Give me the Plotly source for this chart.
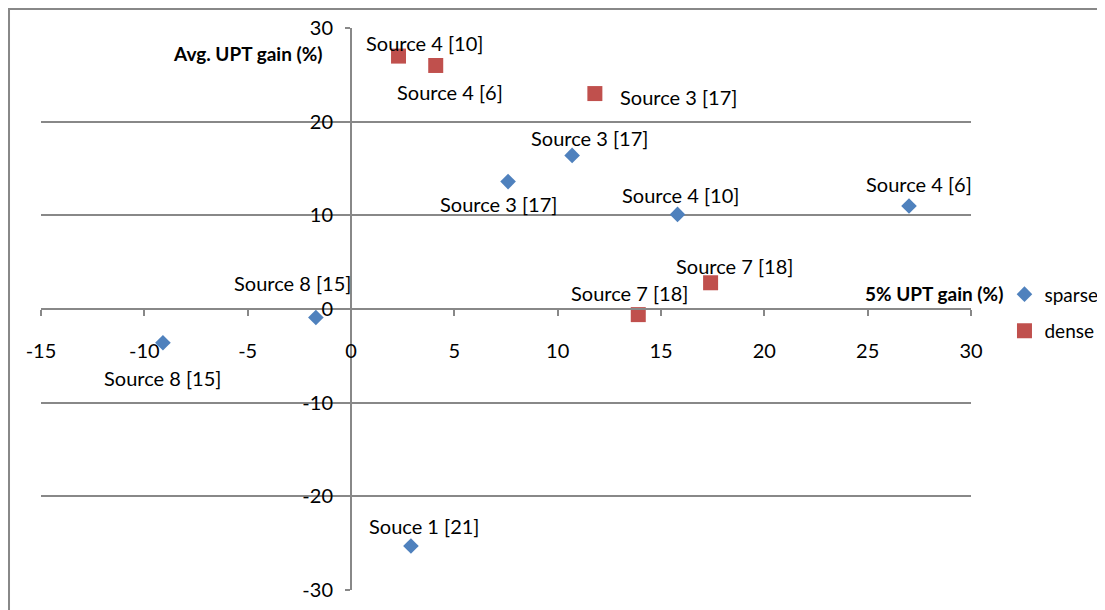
import plotly.graph_objects as go

# Data
sparse_x = [27.0, 15.8, 10.7, 7.6, -1.7, -9.1, 2.9]
sparse_y = [11.0, 10.1, 16.4, 13.6, -0.9, -3.6, -25.3]
sparse_labels = ["Source 4 [6]", "Source 4 [10]", "Source 3 [17]", "Source 3 [17]",
                 "Source 8 [15]", "Source 8 [15]", "Souce 1 [21]"]

dense_x = [2.3, 4.1, 11.8, 17.4, 13.9]
dense_y = [27.0, 26.0, 23.0, 2.8, -0.6]
dense_labels = ["Source 4 [10]", "Source 4 [6]", "Source 3 [17]", "Source 7 [18]", "Source 7 [18]"]

x_ticks = [-15, -10, -5, 0, 5, 10, 15, 20, 25, 30]
y_ticks = [-30, -20, -10, 0, 10, 20, 30]

# label offsets in pixels (style only)
sparse_off = [(10, 22), (3, 19), (17, 17), (-10, -22), (-23, 34), (0, -35), (14, 20)]
dense_off = [(26, 13), (14, -27), (84, -3), (24, 17), (-9, 22)]

BLUE = "#4F81BD"
RED = "#C0504D"
GRAY = "#888888"
FONT = "Lato, Carlito, Calibri, sans-serif"

fig = go.Figure()
fig.add_trace(go.Scatter(
    x=sparse_x, y=sparse_y, mode="markers", name="sparse", legendgroup="s",
    marker=dict(symbol="diamond", size=12, color=BLUE, line=dict(width=0)),
))
fig.add_trace(go.Scatter(
    x=dense_x, y=dense_y, mode="markers", name="dense", legendgroup="d",
    marker=dict(symbol="square", size=15, color=RED, line=dict(width=0)),
))

annotations = []
for xs, ys, labs, offs in [(sparse_x, sparse_y, sparse_labels, sparse_off),
                           (dense_x, dense_y, dense_labels, dense_off)]:
    for xv, yv, lab, (dx, dy) in zip(xs, ys, labs, offs):
        annotations.append(dict(x=xv, y=yv, xref="x", yref="y", text=lab,
                                showarrow=False, xshift=dx, yshift=dy,
                                font=dict(family=FONT, size=20, color="#000000")))

annotations.append(dict(x=0.3333, y=0.954, xref="paper", yref="paper",
                        text="<b>Avg. UPT gain (%)</b>", showarrow=False,
                        xanchor="right", yanchor="middle", xshift=-26,
                        font=dict(family=FONT, size=19, color="#000000")))
annotations.append(dict(x=1.0, y=0.5, xref="paper", yref="paper",
                        text="<b>5% UPT gain (%)</b>", showarrow=False,
                        xanchor="right", yanchor="middle", xshift=34, yshift=16,
                        font=dict(family=FONT, size=19, color="#000000")))

fig.update_layout(
    width=1097, height=602,
    margin=dict(l=33, r=134, t=20, b=20, autoexpand=False),
    paper_bgcolor="white", plot_bgcolor="white",
    font=dict(family=FONT, size=19, color="#000000"),
    showlegend=True,
    legend=dict(x=1.036, y=0.56, xanchor="left", yanchor="top",
                traceorder="grouped", tracegroupgap=9,
                font=dict(family=FONT, size=19, color="#000000"),
                itemwidth=30, bgcolor="rgba(0,0,0,0)"),
    annotations=annotations,
    xaxis=dict(range=[-15, 30], tickvals=x_ticks, ticktext=[str(v) for v in x_ticks],
               showgrid=False, zeroline=False, showline=True, linecolor=GRAY, linewidth=2,
               anchor="free", position=0.5, ticks="outside", ticklen=6, tickcolor=GRAY,
               tickwidth=2, ticklabelstandoff=18, automargin=False,
               tickfont=dict(family=FONT, size=20)),
    yaxis=dict(range=[-30, 30], tickvals=y_ticks, ticktext=[str(v) for v in y_ticks],
               showgrid=True, gridcolor=GRAY, gridwidth=1.5, zeroline=False,
               showline=True, linecolor=GRAY, linewidth=2,
               anchor="free", position=1/3, ticks="outside", ticklen=5, tickcolor=GRAY,
               tickwidth=1.5, ticklabelstandoff=8, automargin=False,
               tickfont=dict(family=FONT, size=20)),
    shapes=[dict(type="rect", xref="paper", yref="paper", x0=-0.0344, y0=-0.2,
                 x1=1.3, y1=1.0338, line=dict(color=GRAY, width=2), layer="below")],
)

fig.write_html("out.html")
